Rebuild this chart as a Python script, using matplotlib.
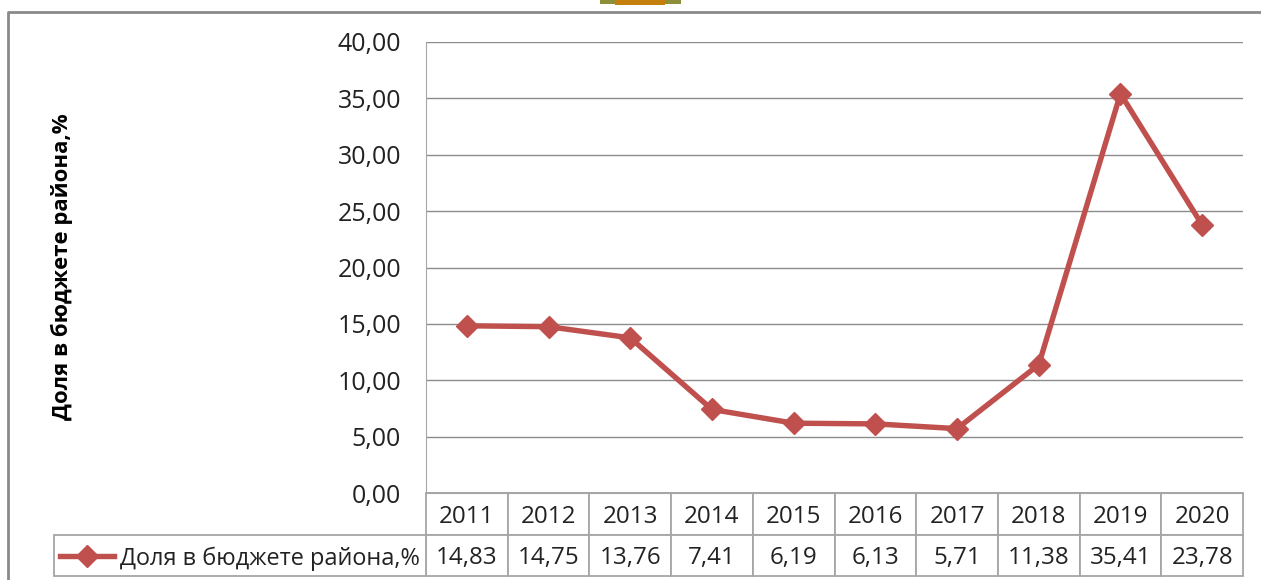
import matplotlib
matplotlib.use('Agg')
import matplotlib.pyplot as plt
from matplotlib.lines import Line2D
from matplotlib.patches import Rectangle

years = ['2011', '2012', '2013', '2014', '2015', '2016', '2017', '2018', '2019', '2020']
values = [14.83, 14.75, 13.76, 7.41, 6.19, 6.13, 5.71, 11.38, 35.41, 23.78]
value_labels = ['14,83', '14,75', '13,76', '7,41', '6,19', '6,13', '5,71', '11,38', '35,41', '23,78']
y_ticks = [0, 5, 10, 15, 20, 25, 30, 35, 40]
series_name = 'Доля в бюджете района,%'

W, H = 1261, 580
RED = '#C0504D'
GREY = '#A6A6A6'
TEXT = '#222222'

plt.rcParams['font.family'] = ['Open Sans', 'DejaVu Sans']

fig = plt.figure(figsize=(W / 100, H / 100), dpi=100)

# plot area in pixels of the reference
left, right, top, bottom = 426, 1243, 42, 493
ax = fig.add_axes([left / W, 1 - bottom / H, (right - left) / W, (bottom - top) / H])

x = list(range(len(years)))
ax.plot(x, values, color=RED, lw=3.9, marker='D', ms=11, mfc=RED, mec=RED, solid_joinstyle='round')
ax.set_xlim(-0.5, len(years) - 0.5)
ax.set_ylim(0, 40)
ax.set_xticks([])
ax.set_yticks(y_ticks)
ax.set_yticklabels(['%d,00' % t for t in y_ticks], fontsize=18, color=TEXT)
ax.tick_params(axis='y', length=0, pad=18)
ax.grid(axis='y', color='#8C8C8C', lw=1)
ax.set_axisbelow(True)
for name in ['top', 'right']:
    ax.spines[name].set_visible(False)
ax.spines['left'].set_color(GREY)
ax.spines['bottom'].set_color(GREY)

# data table under the plot
row_h = 41.5 / (bottom - top)
table = ax.table(cellText=[years, value_labels], cellLoc='center',
                 bbox=[0, -2 * row_h, 1, 2 * row_h])
table.auto_set_font_size(False)
table.set_fontsize(17.4)
for cell in table.get_celld().values():
    cell.set_edgecolor(GREY)
    cell.set_linewidth(1.3)
    cell.get_text().set_color(TEXT)
    cell.get_text().set_verticalalignment('center_baseline')

# legend cell left of the table
fig.add_artist(Rectangle((54 / W, 1 - 576 / H), (left - 54) / W, 41 / H, transform=fig.transFigure,
                         fc='white', ec=GREY, lw=1.3))
fig.add_artist(Line2D([60 / W, 114 / W], [1 - 556 / H, 1 - 556 / H], color=RED, lw=3.9))
fig.add_artist(Line2D([87 / W], [1 - 556 / H], color=RED, marker='D', ms=11))
fig.text(120 / W, 1 - 556 / H, series_name, fontsize=16.9, color=TEXT, va='center_baseline', ha='left')

# axis title
fig.text(62 / W, 1 - 267 / H, series_name, fontsize=15.9, fontweight='bold', color='black',
         rotation=90, va='center', ha='center')

# outer frame of the pasted picture
fig.add_artist(Line2D([8 / W, 8 / W, 1], [0, 1 - 12 / H, 1 - 12 / H], color='#8A8A8A', lw=2))
# bit of the emblem cut by the top edge
fig.add_artist(Rectangle((600 / W, 1 - 4 / H), 81 / W, 4 / H, transform=fig.transFigure,
                         fc='#8E8F3A', ec='none'))
fig.add_artist(Rectangle((615 / W, 1 - 5 / H), 50 / W, 5 / H, transform=fig.transFigure,
                         fc='#C47F0C', ec='none'))

fig.savefig('out.png', dpi=100)
